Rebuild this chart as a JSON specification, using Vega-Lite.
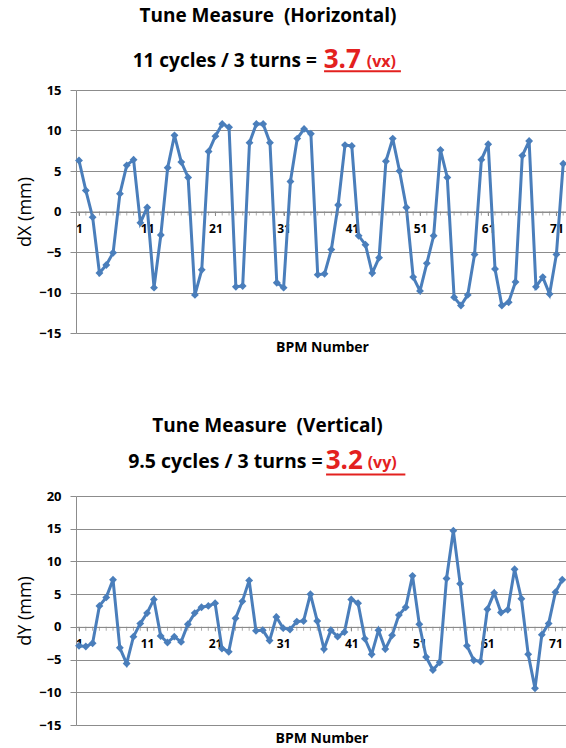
{
  "$schema": "https://vega.github.io/schema/vega-lite/v6.json",
  "background": "white",
  "padding": {"left": 16, "top": 7, "right": 0, "bottom": 0},
  "config": {"font": "Open Sans", "view": {"stroke": null}, "concat": {"spacing": 62}},
  "datasets": {
    "h": [
      {"bpm":1,"dx":6.3},{"bpm":2,"dx":2.6},{"bpm":3,"dx":-0.7},{"bpm":4,"dx":-7.6},{"bpm":5,"dx":-6.6},{"bpm":6,"dx":-5.1},{"bpm":7,"dx":2.2},{"bpm":8,"dx":5.7},{"bpm":9,"dx":6.4},{"bpm":10,"dx":-1.4},
      {"bpm":11,"dx":0.5},{"bpm":12,"dx":-9.4},{"bpm":13,"dx":-2.9},{"bpm":14,"dx":5.4},{"bpm":15,"dx":9.4},{"bpm":16,"dx":6.1},{"bpm":17,"dx":4.2},{"bpm":18,"dx":-10.3},{"bpm":19,"dx":-7.2},{"bpm":20,"dx":7.4},
      {"bpm":21,"dx":9.3},{"bpm":22,"dx":10.8},{"bpm":23,"dx":10.4},{"bpm":24,"dx":-9.3},{"bpm":25,"dx":-9.2},{"bpm":26,"dx":8.5},{"bpm":27,"dx":10.8},{"bpm":28,"dx":10.8},{"bpm":29,"dx":8.5},{"bpm":30,"dx":-8.8},
      {"bpm":31,"dx":-9.4},{"bpm":32,"dx":3.7},{"bpm":33,"dx":9.0},{"bpm":34,"dx":10.2},{"bpm":35,"dx":9.6},{"bpm":36,"dx":-7.8},{"bpm":37,"dx":-7.7},{"bpm":38,"dx":-4.7},{"bpm":39,"dx":0.8},{"bpm":40,"dx":8.2},
      {"bpm":41,"dx":8.1},{"bpm":42,"dx":-3.0},{"bpm":43,"dx":-4.1},{"bpm":44,"dx":-7.6},{"bpm":45,"dx":-5.7},{"bpm":46,"dx":6.2},{"bpm":47,"dx":9.0},{"bpm":48,"dx":5.0},{"bpm":49,"dx":0.5},{"bpm":50,"dx":-8.1},
      {"bpm":51,"dx":-9.8},{"bpm":52,"dx":-6.4},{"bpm":53,"dx":-3.0},{"bpm":54,"dx":7.6},{"bpm":55,"dx":4.2},{"bpm":56,"dx":-10.6},{"bpm":57,"dx":-11.6},{"bpm":58,"dx":-10.3},{"bpm":59,"dx":-5.3},{"bpm":60,"dx":6.4},
      {"bpm":61,"dx":8.3},{"bpm":62,"dx":-7.1},{"bpm":63,"dx":-11.6},{"bpm":64,"dx":-11.2},{"bpm":65,"dx":-8.7},{"bpm":66,"dx":6.9},{"bpm":67,"dx":8.7},{"bpm":68,"dx":-9.3},{"bpm":69,"dx":-8.1},{"bpm":70,"dx":-10.2},
      {"bpm":71,"dx":-5.3},{"bpm":72,"dx":5.9}
    ],
    "v": [
      {"bpm":1,"dy":-2.9},{"bpm":2,"dy":-3.0},{"bpm":3,"dy":-2.5},{"bpm":4,"dy":3.2},{"bpm":5,"dy":4.5},{"bpm":6,"dy":7.2},{"bpm":7,"dy":-3.2},{"bpm":8,"dy":-5.6},{"bpm":9,"dy":-1.5},{"bpm":10,"dy":0.5},
      {"bpm":11,"dy":2.1},{"bpm":12,"dy":4.2},{"bpm":13,"dy":-1.4},{"bpm":14,"dy":-2.4},{"bpm":15,"dy":-1.5},{"bpm":16,"dy":-2.3},{"bpm":17,"dy":0.4},{"bpm":18,"dy":2.1},{"bpm":19,"dy":3.0},{"bpm":20,"dy":3.2},
      {"bpm":21,"dy":3.6},{"bpm":22,"dy":-3.3},{"bpm":23,"dy":-3.8},{"bpm":24,"dy":1.3},{"bpm":25,"dy":3.9},{"bpm":26,"dy":7.1},{"bpm":27,"dy":-0.6},{"bpm":28,"dy":-0.5},{"bpm":29,"dy":-2.1},{"bpm":30,"dy":1.5},
      {"bpm":31,"dy":-0.2},{"bpm":32,"dy":-0.4},{"bpm":33,"dy":0.8},{"bpm":34,"dy":0.9},{"bpm":35,"dy":5.0},{"bpm":36,"dy":0.9},{"bpm":37,"dy":-3.4},{"bpm":38,"dy":-0.5},{"bpm":39,"dy":-1.5},{"bpm":40,"dy":-0.8},
      {"bpm":41,"dy":4.2},{"bpm":42,"dy":3.6},{"bpm":43,"dy":-1.8},{"bpm":44,"dy":-4.2},{"bpm":45,"dy":-0.5},{"bpm":46,"dy":-3.4},{"bpm":47,"dy":-1.3},{"bpm":48,"dy":1.8},{"bpm":49,"dy":3.0},{"bpm":50,"dy":7.8},
      {"bpm":51,"dy":0.4},{"bpm":52,"dy":-4.6},{"bpm":53,"dy":-6.6},{"bpm":54,"dy":-5.4},{"bpm":55,"dy":7.4},{"bpm":56,"dy":14.7},{"bpm":57,"dy":6.6},{"bpm":58,"dy":-2.9},{"bpm":59,"dy":-5.1},{"bpm":60,"dy":-5.3},
      {"bpm":61,"dy":2.7},{"bpm":62,"dy":5.2},{"bpm":63,"dy":2.2},{"bpm":64,"dy":2.6},{"bpm":65,"dy":8.8},{"bpm":66,"dy":4.3},{"bpm":67,"dy":-4.2},{"bpm":68,"dy":-9.4},{"bpm":69,"dy":-1.2},{"bpm":70,"dy":0.5},
      {"bpm":71,"dy":5.3},{"bpm":72,"dy":7.2}
    ]
  },
  "vconcat": [
    {
      "width": 492,
      "height": 243,
      "title": {"text": "Tune Measure\u00a0 (Horizontal)", "fontSize": 19, "fontWeight": "bold", "font": "Open Sans", "color": "black", "frame": "group", "anchor": "middle", "dx": -54, "baseline": "bottom", "offset": 2},
      "layer": [
        {
          "data": {"name": "h"},
          "mark": {"type": "line", "color": "#4a7ebb", "strokeWidth": 3},
          "encoding": {
            "x": {"field": "bpm", "type": "quantitative",
              "scale": {"domain": [0.56, 72.7], "nice": false, "zero": false},
              "axis": {"orient": "bottom", "offset": -121.5, "values": [1,11,21,31,41,51,61,71], "tickCount": 100,
                "labelOverlap": false, "labelFlush": false,
                "grid": false, "domainColor": "#8c8c8c", "tickColor": "#8c8c8c", "tickSize": 4,
                "labelFontSize": 12, "labelFontWeight": "bold", "labelColor": "black", "labelPadding": 8,
                "title": "BPM Number", "titleFontSize": 14, "titleFontWeight": "bold", "titleColor": "black", "titleY": 136, "titleBaseline": "middle"}},
            "y": {"field": "dx", "type": "quantitative",
              "scale": {"domain": [-15, 15], "nice": false},
              "axis": {"values": [-15,-10,-5,0,5,10,15], "tickCount": 20, "labelOverlap": false, "grid": true, "gridColor": "#8c8c8c", "domainColor": "#8c8c8c", "tickColor": "#8c8c8c", "tickSize": 6,
                "labelPadding": 9, "labelFontSize": 13, "labelFontWeight": "bold", "labelColor": "black",
                "title": "dX (mm)", "titleFontSize": 18, "titleFontWeight": "normal", "titleColor": "black", "titlePadding": 4}}
          }
        },
        {
          "data": {"name": "h"},
          "mark": {"type": "tick", "orient": "vertical", "color": "#8c8c8c", "size": 4, "thickness": 1, "yOffset": 2},
          "encoding": {"x": {"field": "bpm", "type": "quantitative"}, "y": {"datum": 0}}
        },
        {
          "data": {"name": "h"},
          "mark": {"type": "point", "shape": "diamond", "filled": true, "size": 62, "color": "#4a7ebb", "opacity": 1},
          "encoding": {"x": {"field": "bpm", "type": "quantitative"}, "y": {"field": "dx", "type": "quantitative"}}
        },
        {
          "data": {"values": [{}]},
          "mark": {"type": "text", "text": "11 cycles / 3 turns =", "align": "right", "baseline": "alphabetic", "fontSize": 19, "fontWeight": "bold", "dx": -3, "color": "black"},
          "encoding": {"x": {"datum": 36.3}, "y": {"datum": 17.8}}
        },
        {
          "data": {"values": [{}]},
          "mark": {"type": "text", "text": "3.7", "align": "left", "baseline": "alphabetic", "fontSize": 26, "fontWeight": "bold", "dx": 4, "dy": 1, "color": "#e3211f"},
          "encoding": {"x": {"datum": 36.3}, "y": {"datum": 17.8}}
        },
        {
          "data": {"values": [{}]},
          "mark": {"type": "text", "text": "(vx)", "align": "left", "baseline": "alphabetic", "fontSize": 16, "fontWeight": "bold", "dx": 47, "dy": 0, "color": "#e3211f"},
          "encoding": {"x": {"datum": 36.3}, "y": {"datum": 17.8}}
        },
        {
          "data": {"values": [{}]},
          "mark": {"type": "rule", "color": "#e3211f", "strokeWidth": 2},
          "encoding": {"x": {"datum": 36.93}, "x2": {"datum": 48.2}, "y": {"datum": 17.3}}
        }
      ]
    },
    {
      "width": 491,
      "height": 229,
      "title": {"text": "Tune Measure\u00a0 (Vertical)", "fontSize": 19, "fontWeight": "bold", "font": "Open Sans", "color": "black", "frame": "group", "anchor": "middle", "dx": -54, "baseline": "bottom", "offset": -7},
      "layer": [
        {
          "data": {"name": "v"},
          "mark": {"type": "line", "color": "#4a7ebb", "strokeWidth": 3},
          "encoding": {
            "x": {"field": "bpm", "type": "quantitative",
              "scale": {"domain": [0.56, 72.7], "nice": false, "zero": false},
              "axis": {"orient": "bottom", "offset": -98.14, "values": [1,11,21,31,41,51,61,71], "tickCount": 100,
                "labelOverlap": false, "labelFlush": false,
                "grid": false, "domainColor": "#8c8c8c", "tickColor": "#8c8c8c", "tickSize": 4,
                "labelFontSize": 12, "labelFontWeight": "bold", "labelColor": "black", "labelPadding": 8,
                "title": "BPM Number", "titleFontSize": 14, "titleFontWeight": "bold", "titleColor": "black", "titleY": 112, "titleBaseline": "middle"}},
            "y": {"field": "dy", "type": "quantitative",
              "scale": {"domain": [-15, 20], "nice": false},
              "axis": {"values": [-15,-10,-5,0,5,10,15,20], "tickCount": 20, "labelOverlap": false, "grid": true, "gridColor": "#8c8c8c", "domainColor": "#8c8c8c", "tickColor": "#8c8c8c", "tickSize": 6,
                "labelPadding": 9, "labelFontSize": 13, "labelFontWeight": "bold", "labelColor": "black",
                "title": "dY (mm)", "titleFontSize": 18, "titleFontWeight": "normal", "titleColor": "black", "titlePadding": 4}}
          }
        },
        {
          "data": {"name": "v"},
          "mark": {"type": "tick", "orient": "vertical", "color": "#8c8c8c", "size": 4, "thickness": 1, "yOffset": 2},
          "encoding": {"x": {"field": "bpm", "type": "quantitative"}, "y": {"datum": 0}}
        },
        {
          "data": {"name": "v"},
          "mark": {"type": "point", "shape": "diamond", "filled": true, "size": 62, "color": "#4a7ebb", "opacity": 1},
          "encoding": {"x": {"field": "bpm", "type": "quantitative"}, "y": {"field": "dy", "type": "quantitative"}}
        },
        {
          "data": {"values": [{}]},
          "mark": {"type": "text", "text": "9.5 cycles / 3 turns =", "align": "right", "baseline": "alphabetic", "fontSize": 19.5, "fontWeight": "bold", "dx": 0, "color": "black"},
          "encoding": {"x": {"datum": 36.8}, "y": {"datum": 24.25}}
        },
        {
          "data": {"values": [{}]},
          "mark": {"type": "text", "text": "3.2", "align": "left", "baseline": "alphabetic", "fontSize": 26, "fontWeight": "bold", "dx": 3, "dy": 1, "color": "#e3211f"},
          "encoding": {"x": {"datum": 36.8}, "y": {"datum": 24.25}}
        },
        {
          "data": {"values": [{}]},
          "mark": {"type": "text", "text": "(vy)", "align": "left", "baseline": "alphabetic", "fontSize": 16, "fontWeight": "bold", "dx": 45, "dy": 0, "color": "#e3211f"},
          "encoding": {"x": {"datum": 36.8}, "y": {"datum": 24.25}}
        },
        {
          "data": {"values": [{}]},
          "mark": {"type": "rule", "color": "#e3211f", "strokeWidth": 2},
          "encoding": {"x": {"datum": 37.3}, "x2": {"datum": 48.95}, "y": {"datum": 23.3}}
        }
      ]
    }
  ]
}
